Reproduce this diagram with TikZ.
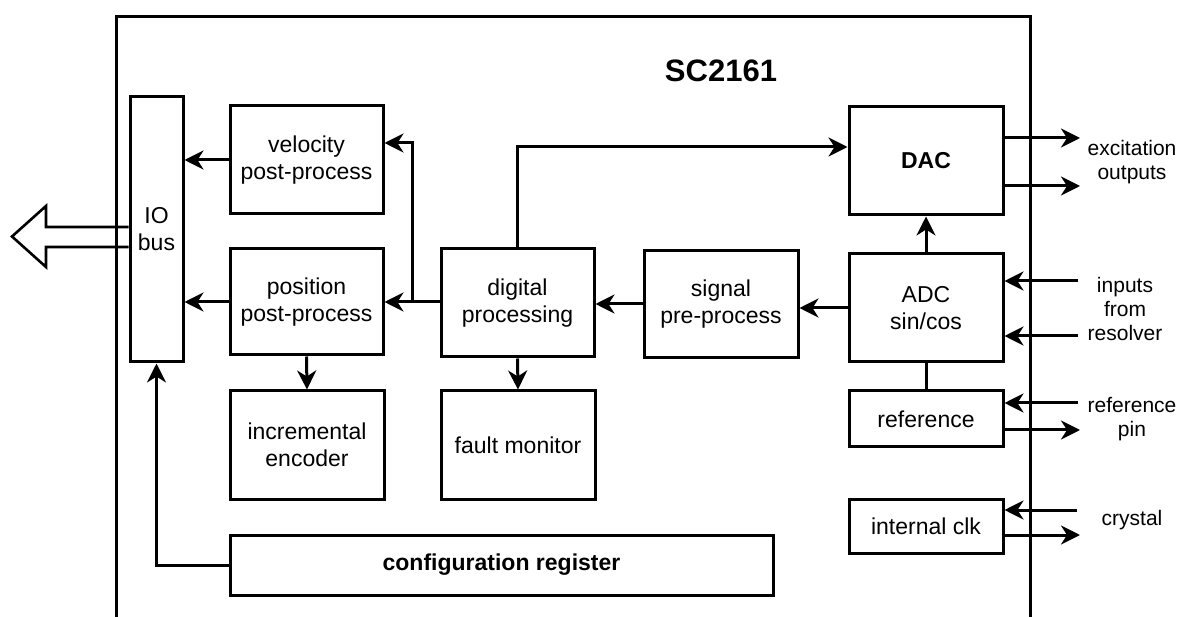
\documentclass[tikz,border=0pt]{standalone}
\usepackage{fontspec}
\setmainfont{Liberation Sans}
\usetikzlibrary{arrows.meta,calc}
\newcommand\bxfont{\fontsize{23}{27}\selectfont}
\newcommand\lbfont{\fontsize{21}{24}\selectfont}
\begin{document}
\begin{tikzpicture}[x=1pt,y=-1pt,
  box/.style={draw,line width=3pt,inner sep=0pt,align=center,font=\bxfont},
  arr/.style={line width=3pt,-{Stealth[length=19pt,width=19pt,inset=6pt]}},
  ln/.style={line width=3pt},
  lbl/.style={align=center,font=\lbfont}]
\useasboundingbox (0,0) rectangle (1181,617);
\fill[white] (0,0) rectangle (1181,617);

% outer chip outline
\draw[ln] (116,617) -- (116,17) -- (1030,17) -- (1030,617);
\node[font=\bfseries\fontsize{31}{36}\selectfont] (title) at (721,71) {SC2161};

% blocks
\node[box,minimum width=53pt,minimum height=265pt] (io) at (156.5,229.5) {IO\\bus};
\node[box,minimum width=153pt,minimum height=108pt] (vel) at (306.5,160) {velocity\\post-process};
\node[box,minimum width=153pt,minimum height=106pt] (pos) at (306.5,302) {position\\post-process};
\node[box,minimum width=154pt,minimum height=108pt] (inc) at (307,445) {incremental\\encoder};
\node[box,minimum width=153pt,minimum height=108pt] (dig) at (517.5,303) {digital\\processing};
\node[box,minimum width=154pt,minimum height=108pt] (fault) at (518,445) {fault monitor};
\node[box,minimum width=154pt,minimum height=107pt] (sig) at (721,304.5) {signal\\pre-process};
\node[box,minimum width=154pt,minimum height=108pt] (dac) at (926,161) {\bfseries DAC};
\node[box,minimum width=154pt,minimum height=108pt] (adc) at (926,308) {ADC\\sin/cos};
\node[box,minimum width=154pt,minimum height=56pt] (ref) at (926,419) {reference};
\node[box,minimum width=154pt,minimum height=54pt] (clk) at (926,526) {internal clk};
\node[box,minimum width=543pt,minimum height=60pt] (cfg) at (501.5,565) {\bfseries configuration register};

% hollow bus arrow
\coordinate (bt) at (io.west |- 0,227);
\coordinate (bb) at (io.west |- 0,247);
\draw[line width=2.6pt,line join=miter] (bt) -- (46,227) -- (46,206) -- (12,236.5) -- (46,267) -- (46,247) -- (bb);

% internal connectors
\draw[arr] (vel.west) -- (vel.west -| io.east);
\draw[arr] (pos.west) -- (pos.west -| io.east);
\coordinate (br) at (412,302);
\coordinate (velin) at (vel.east |- 0,143);
\draw[arr] (dig.west |- br) -- (pos.east |- br);
\draw[arr] (br) |- (velin);
\draw[arr] (pos.south) -- (inc.north);
\draw[arr] (dig.south) -- (fault.north);
\coordinate (dacin) at (dac.west |- 0,147);
\draw[arr] (dig.north) |- (dacin);
\draw[arr] (sig.west |- 0,304) -- (dig.east |- 0,304);
\draw[arr] (adc.west) -- (adc.west -| sig.east);
\draw[arr] (adc.north) -- (dac.south);
\draw[ln] (adc.south) -- (ref.north);
\draw[arr] (cfg.west) -| (io.south);

% external connectors
\coordinate (o1) at (1080,138);
\coordinate (o2) at (1080,186);
\draw[arr] (dac.east |- o1) -- (o1);
\draw[arr] (dac.east |- o2) -- (o2);
\coordinate (i1) at (1078,281);
\coordinate (i2) at (1078,336);
\draw[arr] (i1) -- (adc.east |- i1);
\draw[arr] (i2) -- (adc.east |- i2);
\coordinate (r1) at (1078,403);
\coordinate (r2) at (1080,430);
\draw[arr] (r1) -- (ref.east |- r1);
\draw[arr] (ref.east |- r2) -- (r2);
\coordinate (c1) at (1077,510);
\coordinate (c2) at (1080,535);
\draw[arr] (c1) -- (clk.east |- c1);
\draw[arr] (clk.east |- c2) -- (c2);

% external labels
\node[lbl] (lexc) at (1132,162) {excitation\\outputs};
\node[lbl] (lres) at (1125,309) {inputs\\from\\resolver};
\node[lbl] (lref) at (1132,419) {reference\\pin};
\node[lbl] (lcry) at (1132,520) {crystal};
\end{tikzpicture}
\end{document}
